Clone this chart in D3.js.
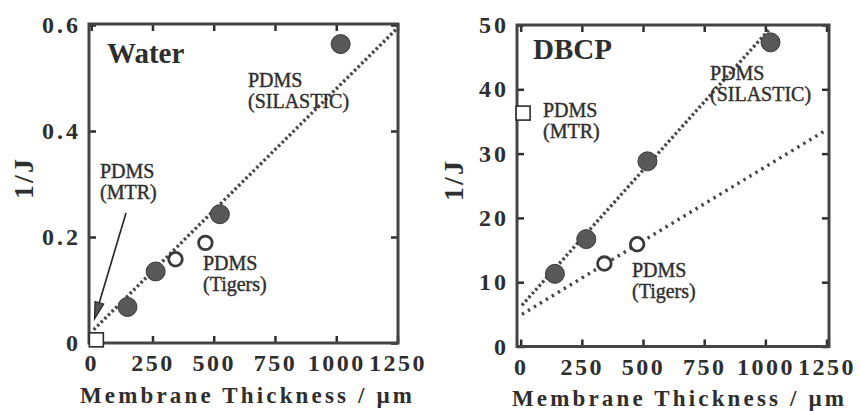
<!DOCTYPE html>
<html>
<head>
<meta charset="utf-8">
<script src="https://cdn.jsdelivr.net/npm/d3@7"></script>
<style>
  body { margin: 0; background: #fff; }
  svg { display: block; }
</style>
</head>
<body>
<svg id="chart" width="860" height="411" font-family="Liberation Serif"></svg>
<script>
// ---- data ----
const xTicks = [0, 250, 500, 750, 1000, 1250];
const waterYTicks = [0, 0.2, 0.4, 0.6];
const dbcpYTicks = [0, 10, 20, 30, 40, 50];

// Water panel
const waterSilasticX = [148, 263, 525, 1018];
const waterSilasticY = [0.068, 0.135, 0.243, 0.564];
const waterTigersX = [344, 466];
const waterTigersY = [0.158, 0.189];
const waterMtrX = [21];
const waterMtrY = [0.006];
const waterFitX = [10, 1245];
const waterFitY = [0.025, 0.592];

// DBCP panel
const dbcpSilasticX = [140, 268, 518, 1021];
const dbcpSilasticY = [11.3, 16.7, 28.8, 47.3];
const dbcpTigersX = [342, 476];
const dbcpTigersY = [12.9, 15.9];
const dbcpMtrX = [10];
const dbcpMtrY = [36.3];
const dbcpSilFitX = [5, 1020];
const dbcpSilFitY = [6.4, 49.5];
const dbcpTigFitX = [5, 1250];
const dbcpTigFitY = [5.0, 33.7];

const svg = d3.select("#chart");
const ink = "#2e2e2e";
const serif = "Liberation Serif";

function styleTicks(a, spacing) {
  a.selectAll("text")
    .attr("font-family", serif).attr("fill", ink)
    .style("font-size", "24px").style("font-weight", "bold")
    .style("letter-spacing", spacing);
}

function drawPanel(p) {
  const g = svg.append("g");
  const x = d3.scaleLinear().domain(p.xDomain).range([p.left, p.right]);
  const y = d3.scaleLinear().domain(p.yDomain).range([p.bottom, p.top]);

  // inward ticks on all four sides
  g.append("g")
    .attr("transform", `translate(0,${p.frameBottom})`)
    .call(d3.axisBottom(x).tickValues(xTicks).tickFormat(d3.format("d"))
      .tickSizeInner(-7).tickSizeOuter(0).tickPadding(11))
    .call(a => a.select(".domain").remove())
    .call(a => styleTicks(a, "2.5px"));
  g.append("g")
    .attr("transform", `translate(0,${p.frameTop})`)
    .call(d3.axisTop(x).tickValues(xTicks).tickSizeInner(-7).tickSizeOuter(0).tickFormat(""))
    .call(a => a.select(".domain").remove());
  g.append("g")
    .attr("transform", `translate(${p.left},0)`)
    .call(d3.axisLeft(y).tickValues(p.yTicks).tickSizeInner(-7).tickSizeOuter(0).tickPadding(8)
      .tickFormat(p.yFormat))
    .call(a => a.select(".domain").remove())
    .call(a => styleTicks(a, "3px"));
  g.append("g")
    .attr("transform", `translate(${p.right},0)`)
    .call(d3.axisRight(y).tickValues(p.yTicks).tickSizeInner(-7).tickSizeOuter(0).tickFormat(""))
    .call(a => a.select(".domain").remove());
  g.selectAll(".tick line").attr("stroke", ink).attr("stroke-width", 2.5);

  // frame
  g.append("rect")
    .attr("x", p.left).attr("y", p.frameTop)
    .attr("width", p.right - p.left).attr("height", p.frameBottom - p.frameTop)
    .attr("fill", "none").attr("stroke", "#444").attr("stroke-width", 3);

  // fit lines
  const line = d3.line().x(d => x(d[0])).y(d => y(d[1]));
  p.fits.forEach(f => {
    g.append("path")
      .attr("d", line(d3.zip(f.x, f.y)))
      .attr("fill", "none").attr("stroke", "#474747")
      .attr("stroke-width", 3.4).attr("stroke-dasharray", f.dash);
  });

  // arrow (water panel only)
  if (p.arrow) p.arrow(g);

  // markers
  g.selectAll(".sil").data(d3.zip(p.silX, p.silY)).join("circle")
    .attr("cx", d => x(d[0])).attr("cy", d => y(d[1])).attr("r", 9.5)
    .attr("fill", "#585858").attr("stroke", "#3a3a3a").attr("stroke-width", 1);
  g.selectAll(".tig").data(d3.zip(p.tigX, p.tigY)).join("circle")
    .attr("cx", d => x(d[0])).attr("cy", d => y(d[1])).attr("r", 6.8)
    .attr("fill", "#fff").attr("stroke", "#3a3a3a").attr("stroke-width", 2.8);
  g.selectAll(".mtr").data(d3.zip(p.mtrX, p.mtrY)).join("rect")
    .attr("x", d => x(d[0]) - 7).attr("y", d => y(d[1]) - 7)
    .attr("width", 14).attr("height", 14)
    .attr("fill", "#fff").attr("stroke", "#2b2b2b").attr("stroke-width", 1.6);

  // panel title
  g.append("text").attr("x", p.title[1]).attr("y", p.title[2])
    .attr("font-family", serif).attr("fill", ink)
    .style("font-size", "29px").style("font-weight", "bold").text(p.title[0]);

  // annotations
  p.notes.forEach(n => {
    const t = g.append("text").attr("x", n.x).attr("y", n.y)
      .attr("font-family", serif).attr("fill", ink)
      .attr("stroke", ink).attr("stroke-width", 0.4)
      .style("font-size", "20px");
    n.lines.forEach((s, i) => t.append("tspan").attr("x", n.x).attr("dy", i ? 21 : 0).text(s));
  });

  // axis titles
  g.append("text")
    .attr("transform", `translate(${p.yTitleX},${p.yTitleY}) rotate(-90)`)
    .attr("text-anchor", "middle")
    .attr("font-family", serif).attr("fill", ink)
    .style("font-size", "28px").style("font-weight", "bold").style("letter-spacing", "2px")
    .text("1/J");
  g.append("text")
    .attr("x", p.xTitleX).attr("y", p.xTitleY)
    .attr("textLength", 332).attr("lengthAdjust", "spacing")
    .attr("font-family", serif).attr("fill", ink)
    .style("font-size", "23px").style("font-weight", "bold")
    .text("Membrane Thickness / \u00b5m");
}

drawPanel({
  left: 89, right: 398, top: 25, bottom: 343, frameTop: 24, frameBottom: 343,
  xDomain: [-9, 1252], yDomain: [0, 0.6], yTicks: waterYTicks,
  yFormat: d => d === 0 ? "0" : d3.format(".1f")(d),
  silX: waterSilasticX, silY: waterSilasticY,
  tigX: waterTigersX, tigY: waterTigersY,
  mtrX: waterMtrX, mtrY: waterMtrY,
  fits: [{ x: waterFitX, y: waterFitY, dash: "2.5 2.6" }],
  title: ["Water", 107, 63],
  notes: [
    { x: 100, y: 178, lines: ["PDMS", "(MTR)"] },
    { x: 248, y: 87, lines: ["PDMS", "(SILASTIC)"] },
    { x: 203, y: 270, lines: ["PDMS", "(Tigers)"] }
  ],
  arrow: (g) => {
    const x1 = 126, y1 = 213, x2 = 94.5, y2 = 319;
    g.append("line").attr("x1", x1).attr("y1", y1).attr("x2", x2 + 3.5).attr("y2", y2 - 12)
      .attr("stroke", "#222").attr("stroke-width", 1.6);
    const ang = Math.atan2(y2 - y1, x2 - x1);
    const len = 17, half = 4.5;
    const bx = x2 - len * Math.cos(ang), by = y2 - len * Math.sin(ang);
    const px = -Math.sin(ang) * half, py = Math.cos(ang) * half;
    g.append("path")
      .attr("d", `M${x2},${y2}L${bx + px},${by + py}L${bx - px},${by - py}Z`)
      .attr("fill", "#555").attr("stroke", "#222").attr("stroke-width", 1.2);
  },
  yTitleX: 33, yTitleY: 178, xTitleX: 80, xTitleY: 403
});

drawPanel({
  left: 517, right: 829, top: 25, bottom: 346.5, frameTop: 25, frameBottom: 346.5,
  xDomain: [-15, 1260], yDomain: [0, 50], yTicks: dbcpYTicks,
  yFormat: d3.format("d"),
  silX: dbcpSilasticX, silY: dbcpSilasticY,
  tigX: dbcpTigersX, tigY: dbcpTigersY,
  mtrX: dbcpMtrX, mtrY: dbcpMtrY,
  fits: [
    { x: dbcpSilFitX, y: dbcpSilFitY, dash: "2.5 2.6" },
    { x: dbcpTigFitX, y: dbcpTigFitY, dash: "2.5 4.5" }
  ],
  title: ["DBCP", 533, 59],
  notes: [
    { x: 543, y: 117, lines: ["PDMS", "(MTR)"] },
    { x: 710, y: 80, lines: ["PDMS", "(SILASTIC)"] },
    { x: 632, y: 277, lines: ["PDMS", "(Tigers)"] }
  ],
  yTitleX: 463, yTitleY: 180, xTitleX: 512, xTitleY: 406
});
</script>
</body>
</html>
